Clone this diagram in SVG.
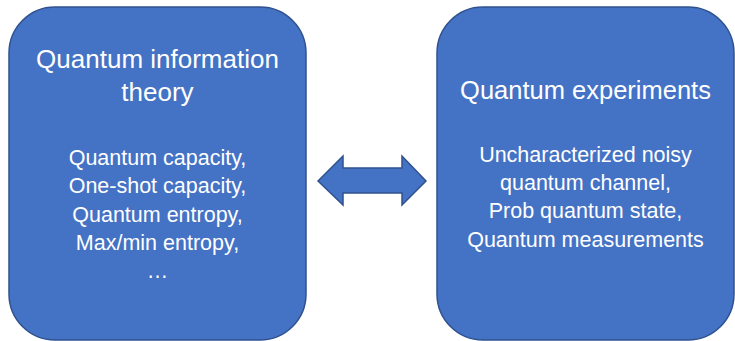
<svg xmlns="http://www.w3.org/2000/svg" width="735" height="341" viewBox="0 0 735 341">
<style>
.box{fill:#4472C4;stroke:#2F528F;stroke-width:1.5}
.t{font-family:"Liberation Sans",Arial,sans-serif;fill:#fff;text-anchor:middle}
.h{font-size:25.5px}
.h2{font-size:26px}
.b{font-size:21.5px}
</style>
<rect width="735" height="341" fill="#fff"/>
<g id="qit">
<rect class="box" x="9" y="7" width="297" height="333" rx="46" ry="46"/>
<text class="t h2" x="157.5" y="68">Quantum information</text>
<text class="t h2" x="157.5" y="101">theory</text>
<text class="t b" x="157.5" y="165">Quantum capacity,</text>
<text class="t b" x="157.5" y="193">One-shot capacity,</text>
<text class="t b" x="157.5" y="222">Quantum entropy,</text>
<text class="t b" x="157.5" y="250">Max/min entropy,</text>
<text class="t b" x="157.5" y="278">…</text>
</g>
<g id="qexp">
<rect class="box" x="437" y="7" width="297" height="333" rx="46" ry="46"/>
<text class="t h" x="585.5" y="99">Quantum experiments</text>
<text class="t b" x="585.5" y="162">Uncharacterized noisy</text>
<text class="t b" x="585.5" y="190">quantum channel,</text>
<text class="t b" x="585.5" y="218">Prob quantum state,</text>
<text class="t b" x="585.5" y="247">Quantum measurements</text>
</g>
<g id="connectors">
<polygon class="box" points="318,181 343,156 343,168 402,168 402,156 426,181 402,205 402,193 343,193 343,205"/>
</g>
</svg>
